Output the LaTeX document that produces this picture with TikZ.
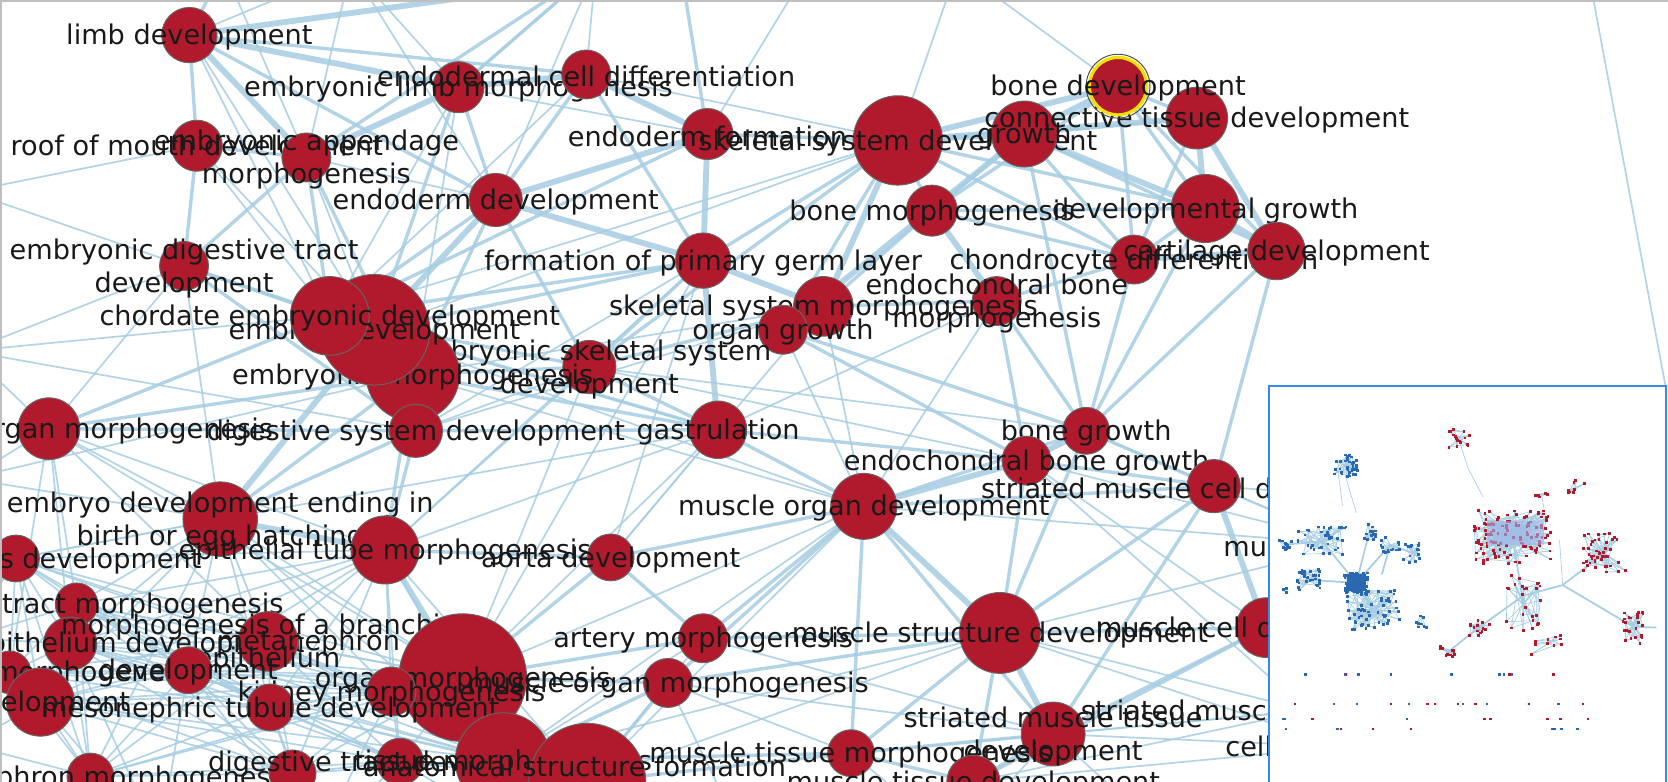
\documentclass[tikz,border=0pt]{standalone}
\usepackage{fontspec}
\setmainfont{DejaVu Sans}
\definecolor{nodered}{HTML}{B11A2C}
\definecolor{edgeblue}{HTML}{A6CDE2}
\definecolor{insetblue}{HTML}{3A86F0}
\definecolor{dotblue}{HTML}{2A68B0}
\definecolor{viewp}{HTML}{9FB4EA}
\definecolor{ringyellow}{HTML}{F2E200}
\newcommand\gn[4][]{%
  \node[gnode,minimum size={2*#3pt},#1] (#2-n) at (#2) {};
  \node[glabel] (#2-l) at ([yshift=-2pt]#2) {#4};}
\newcommand\gnat[5][]{%
  \node[gnode,minimum size={2*#3pt},#1] (#2-n) at (#2) {};
  \node[glabel] (#2-l) at (#5) {#4};}
\begin{document}
\begin{tikzpicture}[x=1pt,y=-1pt,
  gnode/.style={circle,fill=nodered,draw=black!60,line width=0.9pt,inner sep=0pt},
  glabel/.style={font=\fontsize{25.5}{31}\selectfont,text=black!90,align=center,inner sep=0pt},
  ethick/.style={draw=edgeblue,line width=5.5pt,opacity=0.85},
  emid/.style={draw=edgeblue,line width=3.2pt,opacity=0.85},
  ethin/.style={draw=edgeblue,line width=1.6pt,opacity=0.85},
  iedge/.style={draw=edgeblue,line width=0.6pt},
  iedgeb/.style={draw=edgeblue,line width=1.6pt}]
\useasboundingbox (0,0) rectangle (1568,735);
\fill[white] (0,0) rectangle (1568,735);
\begin{scope}
\clip (0,0) rectangle (1568,735);
% ---------- positions ----------
\coordinate (limb) at (178,33);   \coordinate (elimb) at (431,82);
\coordinate (ecell) at (551,70);  \coordinate (roof) at (185,137);
\coordinate (app) at (288,148);   \coordinate (edev) at (466,188);
\coordinate (eform) at (665,126); \coordinate (ssd) at (844,132);
\coordinate (bdev) at (1051,81);  \coordinate (ctd) at (1125,111);
\coordinate (grow) at (963,126);  \coordinate (bmor) at (876,198);
\coordinate (dgrow) at (1133,196);\coordinate (cart) at (1200,236);
\coordinate (chon) at (1066,244); \coordinate (pgerm) at (661,245);
\coordinate (edig) at (173,250);  \coordinate (ebmor) at (937,283);
\coordinate (ssm) at (774,288);   \coordinate (ogrow) at (736,310);
\coordinate (chord) at (310,297); \coordinate (embdev) at (352,310);
\coordinate (emor) at (388,352);  \coordinate (eskel) at (554,345);
\coordinate (dsd) at (391,405);   \coordinate (eorg) at (46,403);
\coordinate (gast) at (675,404);  \coordinate (bgrow) at (1021,405);
\coordinate (ebgrow) at (965,433);\coordinate (smcd) at (1141,457);
\coordinate (mod) at (812,476);   \coordinate (ebirth) at (207,488);
\coordinate (etube) at (362,517); \coordinate (aorta) at (574,524);
\coordinate (meso) at (15,525);   \coordinate (dtm) at (72,568);
\coordinate (branch) at (252,603);\coordinate (epi) at (66,605);
\coordinate (n4) at (9,632);      \coordinate (n5) at (38,660);
\coordinate (n6) at (177,630);    \coordinate (mtd) at (254,665);
\coordinate (kid) at (368,650);   \coordinate (big) at (435,637);
\coordinate (art) at (661,600);   \coordinate (mom) at (628,642);
\coordinate (msd) at (940,595);   \coordinate (mcd) at (1190,590);
\coordinate (smt) at (990,690);   \coordinate (mtm) at (800,708);
\coordinate (mtd2) at (915,735);  \coordinate (b1) at (85,730);
\coordinate (b2) at (275,727);    \coordinate (dtd) at (376,716);
\coordinate (tm) at (473,715);    \coordinate (asf) at (552,735);
\coordinate (smcdev) at (1229,668);\coordinate (mus) at (1272,512);
\coordinate (celld) at (1262,702);
% off-canvas ends
\coordinate (T1) at (210,-30); \coordinate (T2) at (330,-30); \coordinate (T3) at (560,-30);
\coordinate (T4) at (640,-30); \coordinate (T5) at (760,-30); \coordinate (T6) at (900,-30);
\coordinate (L1) at (-30,180); \coordinate (L2) at (-30,330); \coordinate (L3) at (-30,450);
\coordinate (L4) at (-30,600); \coordinate (L5) at (-30,700);
\coordinate (B1) at (150,790); \coordinate (B2) at (300,790); \coordinate (B3) at (500,790);
\coordinate (B4) at (700,790); \coordinate (B5) at (900,790); \coordinate (B6) at (1100,790);
\coordinate (R3) at (1320,470);
\coordinate (FR1) at (1497,-5); \coordinate (FR2) at (1566,365);
% ---------- edges ----------
\foreach \a/\b in {meso/dtm,meso/epi,meso/n4,meso/n5,meso/n6,meso/branch,meso/mtd,meso/kid,meso/b1,meso/ebirth,meso/etube,meso/big,
  dtm/epi,dtm/n4,dtm/n5,dtm/n6,dtm/branch,dtm/mtd,dtm/kid,dtm/b1,dtm/b2,dtm/dtd,dtm/eorg,dtm/ebirth,dtm/etube,dtm/big,dtm/tm,
  epi/n4,epi/n5,epi/n6,epi/branch,epi/mtd,epi/kid,epi/b1,epi/b2,epi/dtd,epi/eorg,epi/ebirth,epi/etube,epi/big,epi/tm,
  n4/n5,n4/n6,n4/branch,n4/mtd,n4/kid,n4/b1,n4/b2,n4/eorg,n4/big,
  n5/n6,n5/branch,n5/mtd,n5/kid,n5/b1,n5/b2,n5/dtd,n5/ebirth,n5/etube,n5/big,n5/tm,
  n6/branch,n6/mtd,n6/kid,n6/b1,n6/b2,n6/dtd,n6/ebirth,n6/etube,n6/big,n6/tm,
  branch/mtd,branch/kid,branch/b1,branch/b2,branch/dtd,branch/eorg,branch/ebirth,branch/etube,branch/big,branch/tm,branch/asf,
  mtd/kid,mtd/b1,mtd/b2,mtd/dtd,mtd/ebirth,mtd/etube,mtd/big,mtd/tm,mtd/asf,
  kid/b1,kid/b2,kid/dtd,kid/ebirth,kid/etube,kid/big,kid/tm,kid/asf,
  b1/b2,b1/dtd,b1/ebirth,b1/big,b2/dtd,b2/etube,b2/big,b2/tm,dtd/etube,dtd/big,dtd/asf,
  eorg/ebirth,eorg/etube,eorg/big,ebirth/big,ebirth/tm,etube/tm,etube/asf,
  meso/L4,dtm/L4,epi/L4,n5/L5,b1/L5,n4/L5,epi/B1,n5/B1,n6/B1,b1/B1,b2/B1,mtd/B2,kid/B2,dtd/B2,n6/B2,big/B3,tm/B3,dtd/B3,asf/B4,mom/B4,mtm/B5,smt/B5,mtd2/B6,smt/B6,
  chord/mod,emor/mod,embdev/gast,ebirth/gast,etube/gast,big/gast,big/mod,tm/mod,asf/mod,big/pgerm,etube/pgerm,dsd/pgerm,
  dsd/ssm,gast/ssm,gast/ebmor,mod/ebmor,mod/ssm,eskel/ebgrow,eskel/bgrow,ogrow/mod,gast/aorta,meso/ebirth,edig/ebirth,edig/eorg,
  roof/chord,roof/emor,limb/chord,limb/embdev,elimb/chord,elimb/emor,elimb/eform,app/embdev,app/edev,ecell/chord,ecell/ssd,
  mcd/ebgrow,big/eskel,etube/eskel,aorta/gast,aorta/pgerm,tm/art,asf/art,asf/msd,tm/msd,art/smt,mom/smt,mom/mtm,
  chord/ssd,embdev/ssd,emor/ssm,dsd/eskel,edig/L1,chord/L2,eorg/L2,emor/L3,ebirth/L3,dsd/L2,roof/L1,edig/L2,eorg/L3,
  limb/T2,elimb/T2,elimb/T3,ecell/T3,app/T2,edev/T3,eform/T5,ssd/T6,bdev/T6,app/T1,edev/T2,
  smcd/mus,smcd/R3,msd/mus,msd/smcdev,mcd/mus,mcd/smcdev,smt/smcdev,mtd2/smcdev,mod/mus,ebgrow/mus,
  smt/celld,mtd2/celld,mcd/celld,msd/celld,mtm/smcdev,ebgrow/smcdev,bgrow/mus,FR1/FR2}
  \draw[ethin] (\a) -- (\b);
\foreach \a/\b in {limb/roof,limb/edev,limb/ecell,roof/app,app/edig,app/emor,app/chord,elimb/edev,elimb/embdev,ecell/edev,ecell/pgerm,
  eform/chord,eform/ssd,edev/chord,edev/emor,edev/eskel,pgerm/embdev,pgerm/eskel,pgerm/chord,pgerm/ssd,
  ssd/bmor,ssd/ogrow,ssd/chon,ssd/dgrow,ssd/eskel,bdev/ctd,bdev/dgrow,bdev/bmor,bdev/chon,bdev/cart,ctd/grow,ctd/chon,
  grow/bmor,grow/chon,grow/cart,grow/bgrow,bmor/chon,bmor/ssm,bmor/dgrow,ebmor/ssm,ebmor/chon,ebmor/bgrow,ebmor/ebgrow,
  chon/dgrow,chon/bgrow,dgrow/bgrow,cart/bgrow,cart/smcd,ssm/eskel,ogrow/bgrow,ogrow/ebgrow,eskel/chord,eskel/emor,eskel/gast,
  gast/emor,gast/dsd,gast/mod,gast/chord,gast/ebgrow,dsd/edig,dsd/chord,dsd/embdev,dsd/ebirth,edig/chord,edig/roof,edig/embdev,
  eorg/chord,eorg/emor,eorg/dsd,ebirth/emor,etube/emor,etube/dsd,etube/aorta,aorta/big,aorta/art,aorta/mod,art/big,art/mod,art/msd,
  mom/big,mom/msd,mom/mod,mom/tm,mom/asf,msd/mcd,msd/mtm,msd/mtd2,msd/smcd,msd/ebgrow,msd/bgrow,mod/smt,mod/mtm,mod/bgrow,mod/smcd,
  smt/mtd2,smt/mtm,smt/mcd,smcd/smt,smcd/bgrow,smcd/ebgrow,mtm/mtd2,mtm/tm,mtm/asf,mtd2/mcd,limb/T1,elimb/T3,eform/T4,app/T3}
  \draw[emid] (\a) -- (\b);
\foreach \a/\b in {limb/elimb,limb/app,elimb/app,elimb/ecell,ecell/eform,eform/pgerm,edev/pgerm,edev/embdev,pgerm/gast,pgerm/ssm,
  ssd/bdev,ssd/grow,ssd/ctd,grow/bdev,grow/dgrow,ctd/cart,ctd/dgrow,dgrow/cart,chon/cart,bmor/ebmor,ssm/ogrow,ogrow/grow,
  bgrow/ebgrow,smcd/mcd,mod/msd,msd/smt,embdev/emor,chord/embdev,emor/dsd,embdev/ebirth,ebirth/etube,etube/big,big/tm,tm/asf,
  big/asf,mod/ebgrow,limb/T4,ssd/ssm,eform/edev}
  \draw[ethick] (\a) -- (\b);
% ---------- nodes ----------
\gn{limb}{26}{limb development}
\gn{elimb}{24}{embryonic limb morphogenesis}
\gn{ecell}{23}{endodermal cell differentiation}
\gn{roof}{24}{roof of mouth development}
\gn{app}{23}{embryonic appendage\\morphogenesis}
\gn{edev}{25}{endoderm development}
\gn{eform}{24}{endoderm formation}
\gn{ssd}{42}{skeletal system development}
\gn{grow}{31}{growth}
\gn{ctd}{29}{connective tissue development}
\node[circle,draw=black!70,line width=0.9pt,minimum size=60pt,inner sep=0pt] (bdev-o) at (bdev) {};
\gn[draw=ringyellow,line width=3pt]{bdev}{27}{bone development}
\gn{bmor}{24}{bone morphogenesis}
\gn{dgrow}{32}{developmental growth}
\gn{chon}{23}{chondrocyte differentiation}
\gn{cart}{27}{cartilage development}
\gn{pgerm}{26}{formation of primary germ layer}
\gn{edig}{23}{embryonic digestive tract\\development}
\gn{ebmor}{23}{endochondral bone\\morphogenesis}
\gn{ssm}{28}{skeletal system morphogenesis}
\gn{ogrow}{23}{organ growth}
\gn{eskel}{25}{embryonic skeletal system\\development}
\gn{emor}{44}{embryonic morphogenesis}
\gn{embdev}{52}{embryo development}
\gn{chord}{37}{chordate embryonic development}
\gn{eorg}{29}{embryonic organ morphogenesis}
\gn{dsd}{25}{digestive system development}
\gn{gast}{27}{gastrulation}
\gn{bgrow}{22}{bone growth}
\gn{ebgrow}{23}{endochondral bone growth}
\gn{smcd}{25}{striated muscle cell differentiation}
\gn{mod}{31}{muscle organ development}
\gn{meso}{22}{mesonephros development}
\gn{ebirth}{35}{embryo development ending in\\birth or egg hatching}
\gn{etube}{32}{epithelial tube morphogenesis}
\gn{aorta}{22}{aorta development}
\gn{dtm}{20}{digestive tract morphogenesis}
\gnat{epi}{25}{epithelium development}{130,606}
\gn{branch}{28}{morphogenesis of a branching\\epithelium}
\gn{big}{60}{organ morphogenesis}
\node[glabel] (metan-l) at (290,604) {metanephron};
\gn{n4}{20}{ureteric bud morphogenesis}
\gn{n6}{22}{development}
\gn{kid}{23}{kidney morphogenesis}
\gn{n5}{32}{development}
\gn{mtd}{22}{mesonephric tubule development}
\gn{art}{23}{artery morphogenesis}
\gn{mom}{23}{muscle organ morphogenesis}
\gn{msd}{38}{muscle structure development}
\gn{mcd}{28}{muscle cell development}
\gn{smt}{30}{striated muscle tissue\\development}
\gn{mtm}{22}{muscle tissue morphogenesis}
\gn{mtd2}{25}{muscle tissue development}
\gn{smcdev}{25}{striated muscle cell development}
\gn{mus}{22}{muscle contraction}
\gn{celld}{22}{cell development}
\gn{b1}{22}{mesonephron morphogenesis}
\gn{b2}{22}{}
\gn{dtd}{22}{digestive tract development}
\gn{tm}{45}{tissue morphogenesis}
\gnat{asf}{55}{anatomical structure formation}{540,720}
% ---------- overview inset ----------
\fill[white] (1193,363) rectangle (1566,740);
\begin{scope}
\clip (1193,363) rectangle (1566,740);
\pgfmathsetseed{11}
\draw[iedgeb] (1275,548) -- (1230,545);
\draw[iedgeb] (1275,548) -- (1243,509);
\draw[iedgeb] (1275,548) -- (1287,501);
\draw[iedgeb] (1275,548) -- (1307,512);
\draw[iedgeb] (1275,548) -- (1291,573);
\draw[iedgeb] (1243,509) -- (1208,512);
\draw[iedgeb] (1307,512) -- (1328,520);
\draw[iedgeb] (1307,512) -- (1299,540);
\draw[iedge] (1264,445) -- (1275,482);
\draw[iedge] (1258,445) -- (1262,475);
\draw[iedge] (1371,412) -- (1380,440) -- (1394,467);
\draw[iedge] (1449,464) -- (1453,488);
\draw[iedgeb] (1422,505) -- (1432,568);
\draw[iedgeb] (1432,560) -- (1469,550) -- (1508,520);
\draw[iedgeb] (1469,550) -- (1535,589) -- (1557,590);
\draw[iedgeb] (1432,560) -- (1390,590) -- (1361,613);
\draw[iedge] (1466,508) -- (1469,550);
\foreach \cx/\cy/\sx/\sy/\n/\col in {
  1264/438/12/12/35/dotblue, 1208/512/8/5/10/dotblue, 1243/509/23/14/35/dotblue, 1287/501/7/8/14/dotblue,
  1307/512/9/8/14/dotblue, 1328/520/9/9/14/dotblue, 1275/548/11/10/60/dotblue, 1230/545/11/10/30/dotblue,
  1291/573/25/19/60/dotblue, 1332/585/9/6/8/dotblue, 1206/555/4/3/3/dotblue,
  1371/412/11/9/18/nodered, 1481/458/9/9/10/nodered, 1449/464/6/4/5/nodered,
  1422/505/37/25/120/nodered, 1508/520/21/19/45/nodered, 1432/568/17/28/25/nodered,
  1390/590/11/8/15/nodered, 1361/613/11/7/12/nodered, 1535/589/10/16/25/nodered, 1455/605/16/10/10/nodered}{
  \xdef\lx{\cx}\xdef\ly{\cy}
  \foreach \k in {1,...,\n}{
    \pgfmathsetmacro\px{\cx+\sx*rand}
    \pgfmathsetmacro\py{\cy+\sy*rand}
    \draw[iedge] (\cx,\cy) -- (\px,\py) -- (\lx,\ly);
    \xdef\lx{\px}\xdef\ly{\py}
  }
}
\pgfmathsetseed{11}
\foreach \cx/\cy/\sx/\sy/\n/\col in {
  1264/438/12/12/35/dotblue, 1208/512/8/5/10/dotblue, 1243/509/23/14/35/dotblue, 1287/501/7/8/14/dotblue,
  1307/512/9/8/14/dotblue, 1328/520/9/9/14/dotblue, 1275/548/11/10/60/dotblue, 1230/545/11/10/30/dotblue,
  1291/573/25/19/60/dotblue, 1332/585/9/6/8/dotblue, 1206/555/4/3/3/dotblue,
  1371/412/11/9/18/nodered, 1481/458/9/9/10/nodered, 1449/464/6/4/5/nodered,
  1422/505/37/25/120/nodered, 1508/520/21/19/45/nodered, 1432/568/17/28/25/nodered,
  1390/590/11/8/15/nodered, 1361/613/11/7/12/nodered, 1535/589/10/16/25/nodered, 1455/605/16/10/10/nodered}{
  \foreach \k in {1,...,\n}{
    \pgfmathsetmacro\px{\cx+\sx*rand}
    \pgfmathsetmacro\py{\cy+\sy*rand}
    \fill[\col] (\px-1.3,\py-1.3) rectangle (\px+1.3,\py+1.3);
  }
}
\fill[dotblue] (1266,540) rectangle (1284,556);
\fill[viewp,opacity=0.6] (1398,490) rectangle (1451,512);
\foreach \k in {1,...,46}{
  \pgfmathsetmacro\px{1205+290*rnd}
  \pgfmathsetmacro\py{{634,662,676,685}[min(3,int(4*rnd))]}
  \ifodd\k
    \fill[nodered] (\px-1.1,\py-1.1) rectangle (\px+1.1,\py+1.1);
  \else
    \fill[dotblue] (\px-1.1,\py-1.1) rectangle (\px+1.1,\py+1.1);
  \fi
}
\end{scope}
\draw[insetblue,line width=2pt] (1193,740) -- (1193,363) -- (1566,363) -- (1566,740);
\end{scope}
\draw[black!25,line width=2pt] (1,735) -- (1,1) -- (1568,1);
\end{tikzpicture}
\end{document}
